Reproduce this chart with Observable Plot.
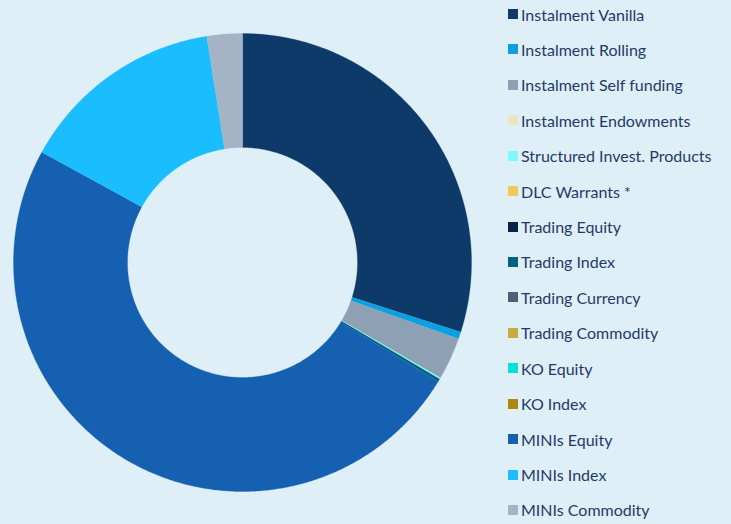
<!DOCTYPE html>
<html>
<head>
<meta charset="utf-8">
<script src="https://cdn.jsdelivr.net/npm/d3@7"></script>
<script src="https://cdn.jsdelivr.net/npm/@observablehq/plot@0.6"></script>
<style>
  html, body { margin: 0; padding: 0; background: #dfeff8; }
  #wrap { position: relative; width: 731px; height: 524px; overflow: hidden; background: #dfeff8; }
  #chart { position: absolute; left: 0; top: 0; }
  #legend { position: absolute; left: 508px; top: -3.7px; font-family: Lato, "Open Sans", sans-serif; font-size: 16px; color: #1f3a68; }
  .row { height: 35.43px; display: flex; align-items: center; white-space: nowrap; }
  .sw { width: 10px; height: 10px; margin-right: 3px; flex: none; }
</style>
</head>
<body>
<div id="wrap">
  <div id="chart"></div>
  <div id="legend"></div>
</div>
<script>
const categories = [
  "Instalment Vanilla", "Instalment Rolling", "Instalment Self funding", "Instalment Endowments",
  "Structured Invest. Products", "DLC Warrants *", "Trading Equity", "Trading Index",
  "Trading Currency", "Trading Commodity", "KO Equity", "KO Index",
  "MINIs Equity", "MINIs Index", "MINIs Commodity"
];
const shares = [29.9, 0.5, 3.0, 0, 0.1, 0, 0, 0.2, 0, 0, 0, 0, 49.3, 14.5, 2.5];
const colors = [
  "#0e3a6a", "#0aa0e2", "#8ea1b4", "#ede4c3",
  "#7ffafa", "#f4c75a", "#0a2444", "#03607f",
  "#4c6179", "#c8ac3c", "#00e1d9", "#b0880f",
  "#1560b0", "#1abdfe", "#a4b4c4"
];

// Build arc polygons (angles from 12 o'clock, clockwise) from the shares
const total = d3.sum(shares);
const innerR = 115 / 229;
const pts = [];
let acc = 0;
categories.forEach((name, i) => {
  const v = shares[i];
  const a0 = acc / total * 2 * Math.PI;
  acc += v;
  const a1 = acc / total * 2 * Math.PI;
  if (v <= 0) return;
  const n = Math.max(2, Math.ceil((a1 - a0) / (Math.PI / 180) * 2));
  for (let k = 0; k <= n; k++) {
    const a = a0 + (a1 - a0) * k / n;
    pts.push({key: name, x: Math.sin(a), y: Math.cos(a)});
  }
  for (let k = n; k >= 0; k--) {
    const a = a0 + (a1 - a0) * k / n;
    pts.push({key: name, x: innerR * Math.sin(a), y: innerR * Math.cos(a)});
  }
});

const chart = Plot.plot({
  width: 484,
  height: 524,
  marginLeft: 13,
  marginRight: 13,
  marginTop: 33,
  marginBottom: 33,
  x: {domain: [-1, 1], axis: null},
  y: {domain: [-1, 1], axis: null},
  color: {domain: categories, range: colors},
  style: {background: "transparent"},
  marks: [
    Plot.line(pts, {x: "x", y: "y", z: "key", fill: "key", stroke: "key", strokeWidth: 0.3, curve: "linear"})
  ]
});
document.getElementById("chart").appendChild(chart);

const legend = document.getElementById("legend");
categories.forEach((name, i) => {
  const row = document.createElement("div");
  row.className = "row";
  const sw = document.createElement("span");
  sw.className = "sw";
  sw.style.background = colors[i];
  const t = document.createElement("span");
  t.textContent = name;
  row.appendChild(sw);
  row.appendChild(t);
  legend.appendChild(row);
});
</script>
</body>
</html>
